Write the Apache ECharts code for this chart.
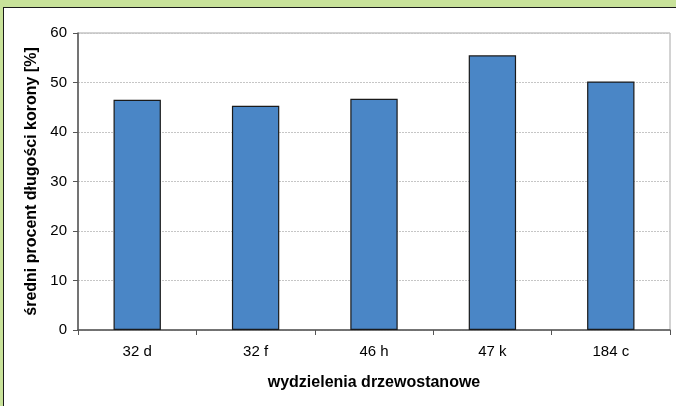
<!DOCTYPE html>
<html>
<head>
<meta charset="utf-8">
<script src="https://cdn.jsdelivr.net/npm/echarts@6/dist/echarts.min.js"></script>
<style>
  html, body { margin: 0; padding: 0; background: #c8e29a; }
  #frame {
    position: absolute; left: 3px; top: 7px; width: 680px; height: 410px;
    background: #ffffff; border: 1px solid #1a1a1a; box-sizing: border-box;
  }
  #chart { position: absolute; left: 0; top: 0; width: 676px; height: 406px; }
</style>
</head>
<body>
<div id="frame"></div>
<div id="chart"></div>
<script>
// dane
const categories = ['32 d', '32 f', '46 h', '47 k', '184 c'];
const meanCrownPct = [46.5, 45.3, 46.7, 55.5, 50.2];
const yTicks = [0, 10, 20, 30, 40, 50, 60];

const chart = echarts.init(document.getElementById('chart'));
const fontFamily = 'Liberation Sans, Arial, sans-serif';
const labelFont = { fontFamily: fontFamily, fontSize: 15, color: '#000' };
const nameFont = { fontFamily: fontFamily, fontSize: 16, fontWeight: 'bold', color: '#000' };

const option = {
  animation: false,
  grid: { left: 78, right: 6, top: 33, bottom: 76, show: true, borderColor: '#a6a6a6', borderWidth: 1, backgroundColor: 'transparent' },
  xAxis: {
    type: 'category',
    data: categories,
    name: 'wydzielenia drzewostanowe',
    nameLocation: 'middle',
    nameGap: 45,
    nameTextStyle: nameFont,
    axisLine: { lineStyle: { color: '#555', width: 1.5 } },
    axisTick: { show: true, alignWithLabel: false, length: 5, lineStyle: { color: '#555' } },
    axisLabel: Object.assign({ margin: 14 }, labelFont),
    splitLine: { show: false }
  },
  yAxis: {
    type: 'value',
    min: yTicks[0],
    max: yTicks[yTicks.length - 1],
    interval: 10,
    name: 'średni procent długości korony [%]',
    nameLocation: 'middle',
    nameGap: 38,
    nameTextStyle: nameFont,
    axisLine: { show: true, lineStyle: { color: '#555', width: 1.5 } },
    axisTick: { show: true, length: 5, lineStyle: { color: '#555' } },
    axisLabel: Object.assign({ margin: 11 }, labelFont),
    splitLine: { show: true, lineStyle: { color: '#c6c6c6', type: [2, 1], width: 1 } }
  },
  series: [{
    type: 'bar',
    data: meanCrownPct,
    barCategoryGap: '60%',
    itemStyle: { color: '#4a86c6', borderColor: '#1a1a1a', borderWidth: 1.2 }
  }]
};
chart.setOption(option);
</script>
</body>
</html>
